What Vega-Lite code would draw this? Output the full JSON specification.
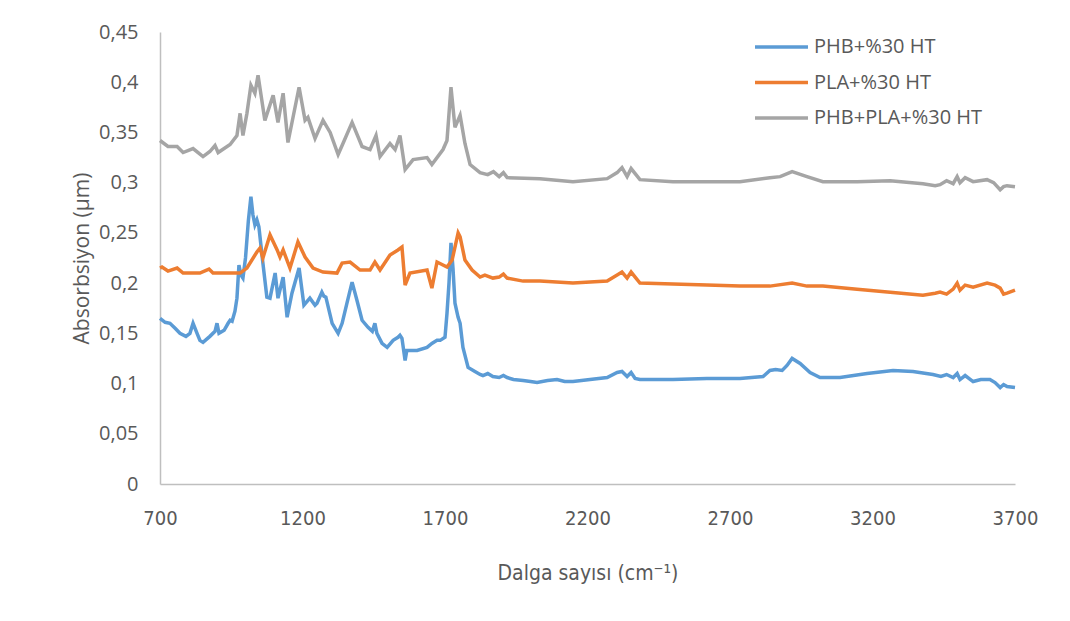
{
  "$schema": "https://vega.github.io/schema/vega-lite/v6.json",
  "width": 855,
  "height": 452,
  "autosize": "none",
  "padding": {"left": 160, "top": 32, "right": 55, "bottom": 137},
  "background": "white",
  "config": {"view": {"stroke": null}, "font": "Open Sans"},
  "datasets": {
    "blue": [[700,0.165],[718,0.161],[735,0.160],[753,0.155],[770,0.150],[791,0.147],[805,0.150],[816,0.160],[830,0.150],[840,0.143],[851,0.141],[875,0.147],[893,0.152],[900,0.160],[907,0.150],[925,0.153],[939,0.160],[946,0.163],[953,0.162],[963,0.172],[970,0.185],[977,0.218],[984,0.208],[991,0.205],[1000,0.225],[1010,0.262],[1019,0.286],[1026,0.268],[1033,0.258],[1040,0.263],[1047,0.256],[1061,0.220],[1075,0.186],[1086,0.185],[1104,0.210],[1114,0.185],[1132,0.206],[1146,0.166],[1163,0.190],[1188,0.215],[1205,0.178],[1226,0.185],[1244,0.178],[1251,0.180],[1268,0.191],[1275,0.187],[1282,0.186],[1304,0.160],[1325,0.150],[1339,0.160],[1356,0.180],[1374,0.201],[1391,0.183],[1409,0.163],[1430,0.156],[1445,0.152],[1454,0.160],[1461,0.150],[1479,0.140],[1497,0.136],[1518,0.143],[1535,0.146],[1542,0.148],[1549,0.145],[1560,0.123],[1566,0.133],[1577,0.133],[1602,0.133],[1637,0.136],[1654,0.140],[1672,0.143],[1683,0.143],[1700,0.146],[1707,0.170],[1714,0.200],[1721,0.240],[1728,0.215],[1735,0.180],[1746,0.166],[1753,0.160],[1763,0.136],[1781,0.116],[1805,0.112],[1823,0.109],[1833,0.108],[1850,0.110],[1868,0.107],[1890,0.106],[1905,0.108],[1918,0.106],[1940,0.104],[1974,0.103],[2000,0.102],[2023,0.101],[2060,0.103],[2093,0.104],[2120,0.102],[2149,0.102],[2209,0.104],[2269,0.106],[2304,0.111],[2321,0.112],[2339,0.107],[2353,0.111],[2367,0.105],[2384,0.104],[2500,0.104],[2619,0.105],[2735,0.105],[2816,0.107],[2840,0.113],[2860,0.114],[2883,0.113],[2900,0.118],[2918,0.125],[2946,0.120],[2981,0.111],[3016,0.106],[3086,0.106],[3181,0.110],[3272,0.113],[3342,0.112],[3412,0.109],[3440,0.107],[3460,0.109],[3483,0.106],[3497,0.110],[3507,0.104],[3525,0.108],[3553,0.102],[3580,0.104],[3612,0.104],[3630,0.101],[3648,0.096],[3660,0.099],[3672,0.097],[3700,0.096]],
    "orange": [[700,0.215],[707,0.216],[728,0.212],[760,0.215],[781,0.210],[840,0.210],[872,0.214],[886,0.210],[950,0.210],[981,0.210],[1005,0.215],[1040,0.231],[1051,0.235],[1061,0.225],[1086,0.248],[1111,0.233],[1121,0.226],[1132,0.233],[1156,0.215],[1184,0.241],[1209,0.226],[1237,0.215],[1272,0.211],[1321,0.210],[1339,0.220],[1367,0.221],[1402,0.213],[1437,0.213],[1454,0.221],[1472,0.213],[1507,0.228],[1535,0.233],[1549,0.236],[1560,0.198],[1577,0.210],[1637,0.213],[1654,0.195],[1672,0.221],[1707,0.216],[1725,0.223],[1746,0.250],[1753,0.246],[1770,0.223],[1795,0.213],[1823,0.206],[1840,0.208],[1868,0.205],[1890,0.206],[1905,0.209],[1918,0.205],[1974,0.202],[2033,0.202],[2149,0.200],[2269,0.202],[2304,0.208],[2321,0.211],[2339,0.205],[2353,0.211],[2384,0.200],[2500,0.199],[2619,0.198],[2735,0.197],[2840,0.197],[2918,0.200],[2970,0.197],[3026,0.197],[3146,0.194],[3262,0.191],[3377,0.188],[3420,0.190],[3437,0.191],[3460,0.189],[3483,0.194],[3497,0.200],[3507,0.193],[3525,0.198],[3553,0.196],[3602,0.200],[3630,0.198],[3648,0.195],[3660,0.189],[3672,0.190],[3700,0.193]],
    "gray": [[700,0.342],[728,0.336],[760,0.336],[781,0.330],[816,0.334],[851,0.326],[875,0.331],[893,0.337],[904,0.330],[946,0.338],[970,0.347],[981,0.369],[991,0.347],[1005,0.369],[1019,0.397],[1033,0.389],[1044,0.407],[1068,0.362],[1097,0.387],[1114,0.360],[1132,0.389],[1149,0.340],[1188,0.395],[1209,0.362],[1219,0.365],[1244,0.344],[1272,0.362],[1297,0.350],[1325,0.328],[1342,0.339],[1374,0.360],[1409,0.336],[1437,0.333],[1458,0.347],[1472,0.326],[1507,0.339],[1525,0.333],[1542,0.347],[1560,0.313],[1588,0.323],[1637,0.325],[1654,0.318],[1693,0.333],[1707,0.342],[1721,0.395],[1735,0.355],[1753,0.367],[1770,0.339],[1788,0.318],[1823,0.310],[1850,0.308],[1870,0.311],[1890,0.306],[1905,0.310],[1918,0.305],[2033,0.304],[2149,0.301],[2269,0.304],[2304,0.310],[2321,0.315],[2339,0.306],[2353,0.314],[2384,0.303],[2500,0.301],[2735,0.301],[2840,0.305],[2876,0.306],[2918,0.311],[2970,0.306],[3026,0.301],[3146,0.301],[3262,0.302],[3377,0.299],[3420,0.297],[3437,0.298],[3460,0.302],[3483,0.299],[3497,0.306],[3507,0.300],[3525,0.305],[3553,0.301],[3602,0.303],[3625,0.300],[3648,0.293],[3660,0.296],[3672,0.297],[3700,0.296]]
  },
  "layer": [
    {
      "data": {"name": "blue"},
      "transform": [
        {"calculate": "datum[0]", "as": "x"},
        {"calculate": "datum[1]", "as": "y"},
        {"calculate": "'PHB+%30 HT'", "as": "s"}
      ],
      "mark": {"type": "line", "strokeWidth": 3.5},
      "encoding": {
        "x": {"field": "x", "type": "quantitative"},
        "y": {"field": "y", "type": "quantitative"},
        "color": {"field": "s", "type": "nominal"}
      }
    },
    {
      "data": {"name": "orange"},
      "transform": [
        {"calculate": "datum[0]", "as": "x"},
        {"calculate": "datum[1]", "as": "y"},
        {"calculate": "'PLA+%30 HT'", "as": "s"}
      ],
      "mark": {"type": "line", "strokeWidth": 3.5},
      "encoding": {
        "x": {"field": "x", "type": "quantitative"},
        "y": {"field": "y", "type": "quantitative"},
        "color": {"field": "s", "type": "nominal"}
      }
    },
    {
      "data": {"name": "gray"},
      "transform": [
        {"calculate": "datum[0]", "as": "x"},
        {"calculate": "datum[1]", "as": "y"},
        {"calculate": "'PHB+PLA+%30 HT'", "as": "s"}
      ],
      "mark": {"type": "line", "strokeWidth": 3.5},
      "encoding": {
        "x": {"field": "x", "type": "quantitative"},
        "y": {"field": "y", "type": "quantitative"},
        "color": {"field": "s", "type": "nominal"}
      }
    }
  ],
  "resolve": {"scale": {"color": "shared"}},
  "encoding": {
    "x": {
      "field": "x", "type": "quantitative",
      "scale": {"domain": [700, 3700], "nice": false, "zero": false},
      "axis": {
        "title": "Dalga sayısı (cm⁻¹)",
        "values": [700, 1200, 1700, 2200, 2700, 3200, 3700],
        "format": "d",
        "grid": false, "ticks": false, "domainColor": "#BFBFBF", "domainWidth": 1.5,
        "labelFont": "DejaVu Sans Condensed, Open Sans, sans-serif", "labelFontSize": 20, "labelColor": "#595959",
        "labelPadding": 24, "labelFlush": false,
        "titleFont": "DejaVu Sans Condensed, Open Sans, sans-serif", "titleFontSize": 21, "titleColor": "#595959", "titleFontWeight": "normal",
        "titlePadding": 34
      }
    },
    "y": {
      "field": "y", "type": "quantitative",
      "scale": {"domain": [0, 0.45], "nice": false},
      "axis": {
        "title": "Absorbsiyon (µm)",
        "values": [0, 0.05, 0.1, 0.15, 0.2, 0.25, 0.3, 0.35, 0.4, 0.45],
        "labelExpr": "replace(format(datum.value, '.2~f'), '.', ',')",
        "grid": false, "ticks": false, "domainColor": "#BFBFBF", "domainWidth": 1.5,
        "labelFont": "Open Sans", "labelFontSize": 20, "labelColor": "#595959",
        "labelPadding": 22,
        "titleFont": "Open Sans", "titleFontSize": 21, "titleColor": "#595959", "titleFontWeight": "normal",
        "titlePadding": 6
      }
    },
    "color": {
      "field": "s", "type": "nominal",
      "scale": {"domain": ["PHB+%30 HT", "PLA+%30 HT", "PHB+PLA+%30 HT"], "range": ["#5B9BD5", "#ED7D31", "#A5A5A5"]},
      "legend": {
        "title": null, "orient": "none", "legendX": 606.5, "legendY": 0,
        "symbolType": "M-2,0L2,0", "symbolSize": 702, "symbolStrokeWidth": 3.5,
        "labelFont": "Open Sans", "labelFontSize": 20, "labelColor": "#595959", "labelLimit": 400,
        "rowPadding": 10.5, "labelOffset": 17.5
      }
    }
  }
}
